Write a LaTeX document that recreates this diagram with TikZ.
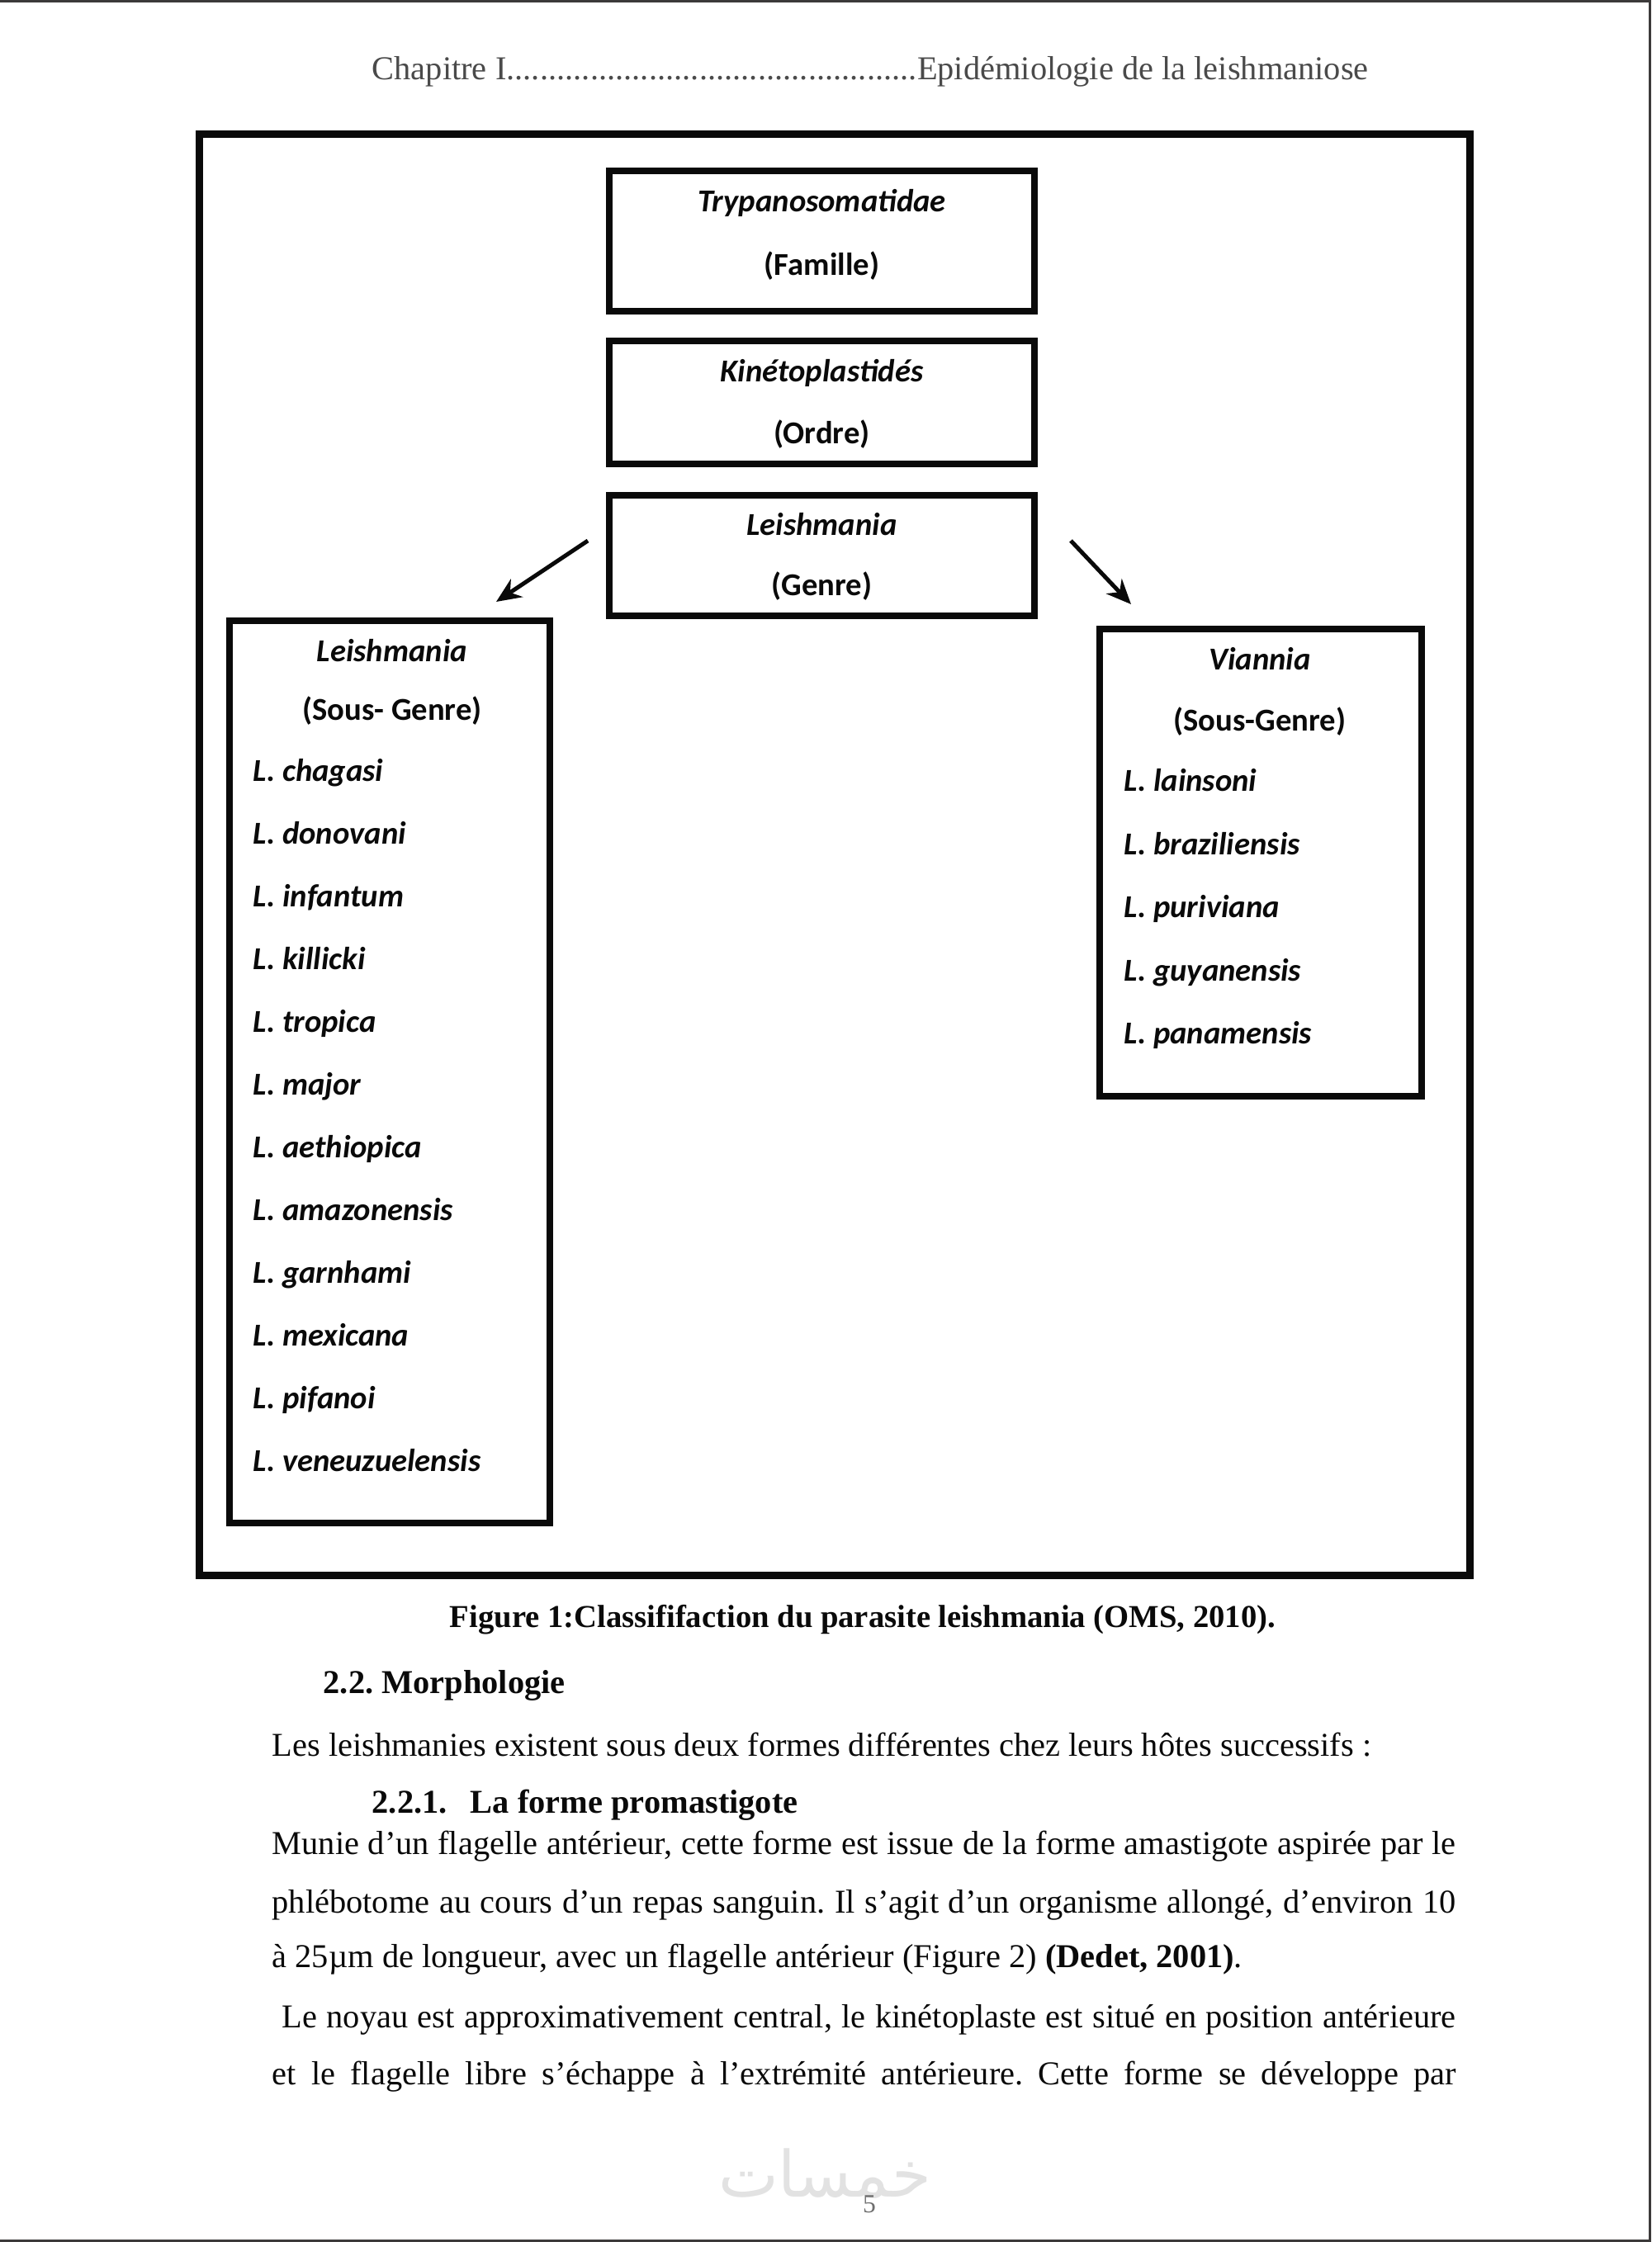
\documentclass[tikz,border=0pt]{standalone}
\usepackage{fontspec}
\setmainfont{Liberation Serif}
\newfontfamily\boxfont{Carlito}
\newfontfamily\bodyfont{Liberation Serif}
\newfontfamily\arabicfont[Script=Arabic]{DejaVu Sans}
\TeXXeTstate=1
\frenchspacing
\usetikzlibrary{arrows.meta, positioning}
\definecolor{inkblack}{HTML}{0A0A0A}
\definecolor{hdrgray}{HTML}{4A4A4A}
\definecolor{wmgray}{HTML}{E2E2E2}
\definecolor{edgegray}{HTML}{3C3A3A}
\definecolor{pagegray}{HTML}{6E6E6E}
\newcommand{\hdrdots}{\xleaders\hbox{.}\hfill}

\begin{document}
\begin{tikzpicture}[>={Stealth[length=3mm, width=2.6mm]},
  taxbox/.style={draw=inkblack, line width=0.08cm, inner sep=0pt},
  boxlbl/.style={text=inkblack, inner sep=0pt, font=\boxfont\fontsize{11}{13}\selectfont\bfseries\itshape},
  ranklbl/.style={text=inkblack, inner sep=0pt, font=\boxfont\fontsize{11}{13}\selectfont\bfseries},
  species/.style={boxlbl, anchor=west, text height=1.6ex, text depth=0.4ex},
  bodyline/.style={text=inkblack, anchor=west, inner sep=0pt, font=\bodyfont\fontsize{11.5}{14}\selectfont},
  arrowline/.style={inkblack, line width=0.05cm}]

% Page
\useasboundingbox (0,0) rectangle (20,-27.16);
\fill[white] (0,0) rectangle (20,-27.16);
\draw[edgegray, line width=0.03cm] (0,-0.015) -- (20,-0.015);
\draw[edgegray, line width=0.03cm] (19.985,0) -- (19.985,-27.16);
\draw[edgegray, line width=0.03cm] (0,-27.145) -- (20,-27.145);

% Header
\node[text=hdrgray, anchor=west, inner sep=0pt, font=\fontsize{11.5}{14}\selectfont] (header) at (4.50,-0.87)
  {\makebox[12.07cm]{Chapitre I\hdrdots Epidémiologie de la leishmaniose}};

% Figure frame
\draw[inkblack, line width=0.09cm] (2.41,-1.62) rectangle (17.80,-19.08);

% --- Family / order / genus ---
\node[taxbox, minimum width=5.15cm, minimum height=1.70cm] (famille) at (9.955,-2.92) {};
\node[boxlbl] (famname) at (9.955,-2.46) {Trypanosomatidae};
\node[ranklbl] (famrank) at (9.955,-3.22) {(Famille)};

\node[taxbox, minimum width=5.15cm, minimum height=1.49cm] (ordre) at (9.955,-4.875) {};
\node[boxlbl] (ordname) at (9.955,-4.52) {Kinétoplastidés};
\node[ranklbl] (ordrank) at (9.955,-5.26) {(Ordre)};

\node[taxbox, minimum width=5.15cm, minimum height=1.46cm] (genre) at (9.955,-6.73) {};
\node[boxlbl] (genname) at (9.955,-6.35) {Leishmania};
\node[ranklbl] (genrank) at (9.955,-7.10) {(Genre)};

% --- Sub-genus Leishmania ---
\node[taxbox, minimum width=3.88cm, minimum height=10.93cm] (sgleish) at (4.72,-12.985) {};
\node[boxlbl] (sglname) at (4.75,-7.88) {Leishmania};
\node[ranklbl] (sglrank) at (4.75,-8.61) {(Sous- Genre)};
\node[species] (lchag) at (3.06,-9.37) {L. chagasi};
\node[species] (ldono) at (3.06,-10.13) {L. donovani};
\node[species] (linfa) at (3.06,-10.89) {L. infantum};
\node[species] (lkill) at (3.06,-11.65) {L. killicki};
\node[species] (ltrop) at (3.06,-12.41) {L. tropica};
\node[species] (lmajo) at (3.06,-13.17) {L. major};
\node[species] (laeth) at (3.06,-13.93) {L. aethiopica};
\node[species] (lamaz) at (3.06,-14.69) {L. amazonensis};
\node[species] (lgarn) at (3.06,-15.45) {L. garnhami};
\node[species] (lmexi) at (3.06,-16.21) {L. mexicana};
\node[species] (lpifa) at (3.06,-16.97) {L. pifanoi};
\node[species] (lvene) at (3.06,-17.73) {L. veneuzuelensis};

% --- Sub-genus Viannia ---
\node[taxbox, minimum width=3.90cm, minimum height=5.66cm] (sgvian) at (15.27,-10.45) {};
\node[boxlbl] (sgvname) at (15.26,-7.98) {Viannia};
\node[ranklbl] (sgvrank) at (15.26,-8.74) {(Sous-Genre)};
\node[species] (vlain) at (13.61,-9.49) {L. lainsoni};
\node[species] (vbraz) at (13.61,-10.255) {L. braziliensis};
\node[species] (vperu) at (13.61,-11.02) {L. puriviana};
\node[species] (vguya) at (13.61,-11.785) {L. guyanensis};
\node[species] (vpana) at (13.61,-12.55) {L. panamensis};

% Arrows from genus to sub-genera
\coordinate (arrLs) at (7.12,-6.55);
\coordinate (arrLe) at (6.01,-7.29);
\coordinate (arrRs) at (12.97,-6.55);
\coordinate (arrRe) at (13.70,-7.32);
\draw[arrowline, ->] (arrLs) -- (arrLe);
\draw[arrowline, ->] (arrRs) -- (arrRe);

% Caption
\node[bodyline, anchor=center, font=\bodyfont\fontsize{11}{14}\selectfont\bfseries] (caption) at (10.45,-19.62)
  {Figure 1:Classififaction du parasite leishmania (OMS, 2010).};

% --- Text below ---
\node[bodyline, font=\bodyfont\fontsize{11.5}{14}\selectfont\bfseries] (sec22) at (3.91,-20.42) {2.2. Morphologie};
\node[bodyline] (intro) at (3.29,-21.14)
  {Les leishmanies existent sous deux formes différentes chez leurs hôtes successifs :};
\node[bodyline, font=\bodyfont\fontsize{11.5}{14}\selectfont\bfseries] (sec221) at (4.50,-21.87)
  {2.2.1.\hspace{0.7em}La forme promastigote};
\node[bodyline] (par1) at (3.29,-22.37)
  {\makebox[14.34cm][s]{Munie d’un flagelle antérieur, cette forme est issue de la forme amastigote aspirée par le}};
\node[bodyline] (par2) at (3.29,-23.08)
  {\makebox[14.34cm][s]{phlébotome au cours d’un repas sanguin. Il s’agit d’un organisme allongé, d’environ 10}};
\node[bodyline] (par3) at (3.29,-23.74)
  {à 25µm de longueur, avec un flagelle antérieur (Figure 2) \textbf{(Dedet, 2001)}.};
\node[bodyline] (par4) at (3.41,-24.47)
  {\makebox[14.22cm][s]{Le noyau est approximativement central, le kinétoplaste est situé en position antérieure}};
\node[bodyline] (par5) at (3.29,-25.16)
  {\makebox[14.34cm][s]{et le flagelle libre s’échappe à l’extrémité antérieure. Cette forme se développe par}};

% Watermark and page number
\node[text=wmgray, inner sep=0pt, font=\arabicfont\fontsize{22}{26}\selectfont] (wmark) at (9.99,-26.33) {\beginR خمسات\endR};
\node[text=pagegray, inner sep=0pt, font=\fontsize{9}{11}\selectfont] (pageno) at (10.53,-26.70) {5};

\end{tikzpicture}
\end{document}
